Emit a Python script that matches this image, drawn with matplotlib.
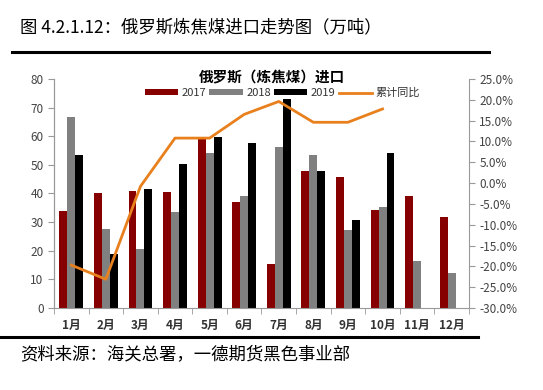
import numpy as np
import matplotlib.pyplot as plt
from matplotlib.lines import Line2D

plt.rcParams['font.family'] = ['Noto Sans CJK SC', 'DejaVu Sans']

months = ['1月', '2月', '3月', '4月', '5月', '6月', '7月', '8月', '9月', '10月', '11月', '12月']
v2017 = [34, 40.3, 41, 40.6, 59, 37, 15.2, 47.8, 45.8, 34.3, 39.2, 31.8]
v2018 = [66.7, 27.6, 20.6, 33.6, 54, 39.2, 56.2, 53.4, 27.4, 35.4, 16.4, 12.3]
v2019 = [53.6, 19, 41.7, 50.4, 59.8, 57.7, 73, 47.9, 30.7, 54.1]
yoy = [-19.7, -23.1, -0.8, 10.8, 10.8, 16.5, 19.6, 14.6, 14.6, 17.8]

c17 = '#870000'
c18 = '#808080'
c19 = '#000000'
cline = '#E8801E'

fig = plt.figure(figsize=(5.43, 3.90), dpi=100)
ax = fig.add_axes([0.0994, 0.2103, 0.7643, 0.5872])
ax2 = ax.twinx()

x = np.arange(len(months))
w = 0.23
ax.bar(x - w, v2017, w, color=c17, label='2017')
ax.bar(x, v2018, w, color=c18, label='2018')
ax.bar(np.arange(len(v2019)) + w, v2019, w, color=c19, label='2019')
ax2.plot(np.arange(len(yoy)), yoy, color=cline, lw=2, label='累计同比')

ax.set_xlim(-0.5, 11.5)
ax.set_ylim(0, 80)
ax.set_yticks(range(0, 81, 10))
ax2.set_ylim(-30, 25)
ax2.set_yticks(range(-30, 26, 5))
ax2.set_yticklabels(['%.1f%%' % v for v in range(-30, 26, 5)])

ax.set_xticks(x)
ax.set_xticklabels(months, fontsize=8.5, fontweight='bold', color='#333333')
ax.set_xticks(np.arange(-0.5, 12, 1), minor=True)
ax.tick_params(axis='x', which='major', length=0, pad=8)
ax.tick_params(axis='x', which='minor', length=4, color='#999999')
ax.tick_params(axis='y', labelsize=8.5, color='#999999', labelcolor='#444444', length=4)
ax2.tick_params(axis='y', labelsize=8.5, color='#999999', labelcolor='#444444', length=4)

for a in (ax, ax2):
    a.spines['top'].set_visible(False)
    for s in ('left', 'right', 'bottom'):
        a.spines[s].set_color('#999999')
ax2.spines['bottom'].set_visible(False)
ax.spines['right'].set_visible(False)

fig.text(0.50, 1 - 77 / 390, '俄罗斯（炼焦煤）进口', ha='center', va='center',
         fontsize=10.5, fontweight='bold')
h1, l1 = ax.get_legend_handles_labels()
h2, l2 = ax2.get_legend_handles_labels()
fig.legend(h1 + h2, l1 + l2, loc='center', bbox_to_anchor=(0.52, 1 - 93 / 390),
           ncol=4, frameon=False, fontsize=8, handlelength=3.0, handleheight=0.5,
           columnspacing=0.3, handletextpad=0.3, borderpad=0, labelcolor='#333333')

fig.text(20 / 543, 1 - 27 / 390, '图 4.2.1.12：俄罗斯炼焦煤进口走势图（万吨）',
         ha='left', va='center', fontsize=12.5)
fig.text(20 / 543, 1 - 354 / 390, '资料来源：海关总署，一德期货黑色事业部',
         ha='left', va='center', fontsize=12.5)
fig.add_artist(Line2D([12 / 543, 489 / 543], [1 - 52 / 390] * 2, color='black', lw=2.2))
fig.add_artist(Line2D([0, 478 / 543], [1 - 337 / 390] * 2, color='black', lw=2.2))

fig.savefig('out.png', dpi=100)
